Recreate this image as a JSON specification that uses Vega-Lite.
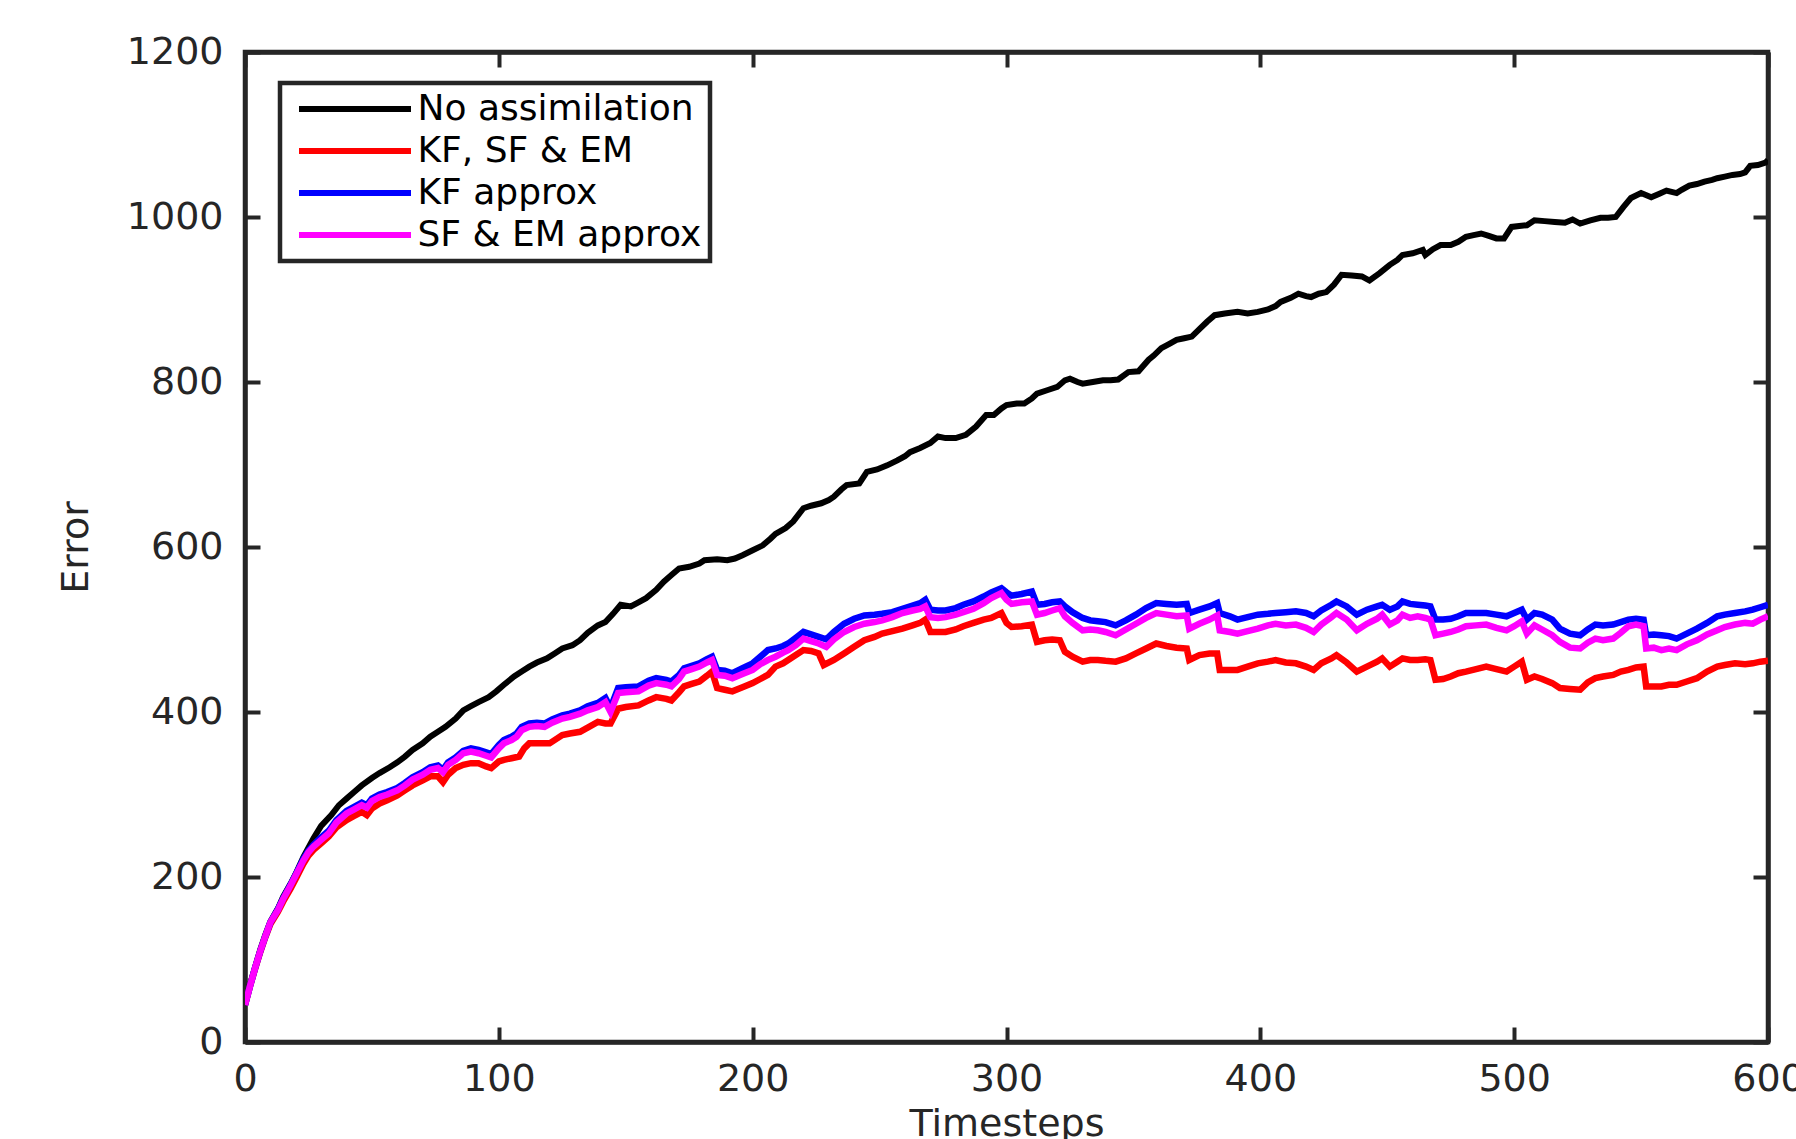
{
  "$schema": "https://vega.github.io/schema/vega-lite/v6.json",
  "width": 1523,
  "height": 990,
  "autosize": {"type": "none"},
  "padding": {"left": 245, "top": 52, "right": 28, "bottom": 97},
  "background": "white",
  "config": {
    "view": {"stroke": "#262626", "strokeWidth": 4.5},
    "axis": {
      "grid": false,
      "domainColor": "#262626",
      "domainWidth": 4.5,
      "tickColor": "#262626",
      "tickWidth": 4,
      "tickSize": -15,
      "labelFont": "DejaVu Sans",
      "labelFontSize": 38,
      "labelColor": "#262626",
      "titleFont": "DejaVu Sans",
      "titleFontSize": 38,
      "titleFontWeight": "normal",
      "titleColor": "#262626",
      "labelBound": false,
      "labelFlush": false,
      "labelOverlap": false
    }
  },
  "datasets": {
    "black": [
      {"t":0,"v":45},{"t":2,"v":70},{"t":4,"v":91},{"t":6,"v":112},{"t":8,"v":130},{"t":10,"v":146},{"t":13,"v":162},{"t":15,"v":176},{"t":18,"v":192},{"t":20,"v":204},{"t":23,"v":224},{"t":27,"v":247},{"t":30,"v":262},{"t":34,"v":275},{"t":37,"v":287},{"t":40,"v":295},{"t":43,"v":303},{"t":46,"v":311},{"t":50,"v":320},{"t":53,"v":326},{"t":57,"v":333},{"t":60,"v":339},{"t":63,"v":346},{"t":66,"v":354},{"t":70,"v":362},{"t":73,"v":370},{"t":76,"v":376},{"t":79,"v":382},{"t":83,"v":392},{"t":86,"v":402},{"t":89,"v":407},{"t":92,"v":412},{"t":96,"v":418},{"t":99,"v":425},{"t":102,"v":433},{"t":106,"v":443},{"t":109,"v":449},{"t":112,"v":455},{"t":115,"v":460},{"t":119,"v":465},{"t":122,"v":471},{"t":125,"v":477},{"t":129,"v":481},{"t":132,"v":487},{"t":135,"v":496},{"t":139,"v":505},{"t":142,"v":509},{"t":145,"v":519},{"t":148,"v":530},{"t":152,"v":528},{"t":155,"v":533},{"t":158,"v":538},{"t":162,"v":548},{"t":165,"v":558},{"t":168,"v":566},{"t":171,"v":574},{"t":175,"v":576},{"t":179,"v":580},{"t":181,"v":584},{"t":186,"v":585},{"t":190,"v":584},{"t":193,"v":586},{"t":196,"v":590},{"t":200,"v":596},{"t":204,"v":602},{"t":207,"v":610},{"t":209,"v":616},{"t":213,"v":623},{"t":216,"v":631},{"t":220,"v":647},{"t":223,"v":650},{"t":227,"v":653},{"t":230,"v":657},{"t":232,"v":661},{"t":235,"v":670},{"t":237,"v":675},{"t":242,"v":677},{"t":245,"v":691},{"t":249,"v":694},{"t":253,"v":699},{"t":257,"v":705},{"t":260,"v":710},{"t":262,"v":715},{"t":266,"v":720},{"t":270,"v":726},{"t":273,"v":734},{"t":276,"v":732},{"t":280,"v":732},{"t":284,"v":736},{"t":288,"v":746},{"t":292,"v":760},{"t":295,"v":760},{"t":298,"v":768},{"t":300,"v":772},{"t":304,"v":774},{"t":307,"v":774},{"t":310,"v":780},{"t":312,"v":786},{"t":316,"v":790},{"t":320,"v":794},{"t":323,"v":802},{"t":325,"v":804},{"t":328,"v":800},{"t":330,"v":798},{"t":334,"v":800},{"t":338,"v":802},{"t":341,"v":802},{"t":344,"v":803},{"t":348,"v":812},{"t":352,"v":813},{"t":354,"v":820},{"t":356,"v":827},{"t":358,"v":832},{"t":361,"v":841},{"t":364,"v":846},{"t":367,"v":851},{"t":370,"v":853},{"t":373,"v":855},{"t":376,"v":864},{"t":379,"v":873},{"t":382,"v":881},{"t":386,"v":883},{"t":391,"v":885},{"t":395,"v":883},{"t":399,"v":885},{"t":403,"v":888},{"t":406,"v":892},{"t":408,"v":897},{"t":412,"v":902},{"t":415,"v":907},{"t":418,"v":904},{"t":420,"v":903},{"t":423,"v":907},{"t":426,"v":909},{"t":429,"v":918},{"t":432,"v":930},{"t":436,"v":929},{"t":440,"v":928},{"t":443,"v":923},{"t":447,"v":932},{"t":451,"v":942},{"t":454,"v":948},{"t":456,"v":954},{"t":460,"v":956},{"t":464,"v":960},{"t":465,"v":954},{"t":468,"v":961},{"t":471,"v":966},{"t":475,"v":966},{"t":478,"v":970},{"t":481,"v":976},{"t":484,"v":978},{"t":487,"v":980},{"t":490,"v":977},{"t":493,"v":974},{"t":496,"v":974},{"t":499,"v":988},{"t":502,"v":989},{"t":505,"v":990},{"t":508,"v":996},{"t":512,"v":995},{"t":516,"v":994},{"t":520,"v":993},{"t":523,"v":997},{"t":526,"v":992},{"t":530,"v":996},{"t":534,"v":999},{"t":537,"v":999},{"t":540,"v":1000},{"t":543,"v":1012},{"t":546,"v":1023},{"t":550,"v":1029},{"t":554,"v":1024},{"t":557,"v":1028},{"t":560,"v":1032},{"t":564,"v":1029},{"t":566,"v":1033},{"t":569,"v":1038},{"t":572,"v":1040},{"t":575,"v":1043},{"t":578,"v":1045},{"t":580,"v":1047},{"t":583,"v":1049},{"t":586,"v":1051},{"t":589,"v":1052},{"t":591,"v":1054},{"t":593,"v":1062},{"t":596,"v":1063},{"t":599,"v":1066},{"t":600,"v":1069}
    ],
    "red": [
      {"t":0,"v":45},{"t":2,"v":68},{"t":4,"v":89},{"t":6,"v":109},{"t":8,"v":127},{"t":10,"v":143},{"t":13,"v":158},{"t":15,"v":170},{"t":18,"v":186},{"t":20,"v":198},{"t":23,"v":216},{"t":25,"v":226},{"t":27,"v":233},{"t":30,"v":241},{"t":33,"v":249},{"t":36,"v":260},{"t":40,"v":269},{"t":43,"v":274},{"t":46,"v":279},{"t":48,"v":275},{"t":50,"v":283},{"t":53,"v":289},{"t":56,"v":293},{"t":60,"v":299},{"t":63,"v":305},{"t":66,"v":311},{"t":70,"v":317},{"t":73,"v":322},{"t":76,"v":322},{"t":78,"v":315},{"t":80,"v":324},{"t":83,"v":332},{"t":86,"v":336},{"t":89,"v":338},{"t":92,"v":338},{"t":95,"v":334},{"t":97,"v":332},{"t":100,"v":340},{"t":102,"v":342},{"t":105,"v":344},{"t":108,"v":346},{"t":110,"v":356},{"t":112,"v":362},{"t":116,"v":362},{"t":120,"v":362},{"t":123,"v":368},{"t":125,"v":372},{"t":128,"v":374},{"t":132,"v":376},{"t":135,"v":381},{"t":139,"v":388},{"t":142,"v":386},{"t":144,"v":386},{"t":147,"v":404},{"t":150,"v":406},{"t":155,"v":408},{"t":159,"v":414},{"t":162,"v":418},{"t":166,"v":416},{"t":168,"v":414},{"t":171,"v":424},{"t":173,"v":431},{"t":176,"v":434},{"t":179,"v":437},{"t":182,"v":444},{"t":184,"v":449},{"t":186,"v":429},{"t":189,"v":427},{"t":192,"v":425},{"t":196,"v":430},{"t":200,"v":435},{"t":203,"v":440},{"t":206,"v":445},{"t":209,"v":455},{"t":212,"v":459},{"t":214,"v":463},{"t":217,"v":469},{"t":220,"v":475},{"t":223,"v":474},{"t":226,"v":471},{"t":228,"v":457},{"t":232,"v":463},{"t":236,"v":471},{"t":240,"v":479},{"t":244,"v":487},{"t":248,"v":491},{"t":251,"v":495},{"t":255,"v":498},{"t":259,"v":501},{"t":263,"v":505},{"t":266,"v":508},{"t":268,"v":512},{"t":270,"v":497},{"t":273,"v":497},{"t":276,"v":497},{"t":280,"v":500},{"t":283,"v":504},{"t":287,"v":508},{"t":291,"v":512},{"t":294,"v":514},{"t":298,"v":520},{"t":300,"v":508},{"t":302,"v":503},{"t":306,"v":504},{"t":310,"v":506},{"t":312,"v":485},{"t":315,"v":487},{"t":318,"v":488},{"t":321,"v":487},{"t":323,"v":473},{"t":326,"v":467},{"t":330,"v":461},{"t":333,"v":463},{"t":336,"v":463},{"t":339,"v":462},{"t":343,"v":461},{"t":347,"v":465},{"t":351,"v":471},{"t":355,"v":477},{"t":359,"v":483},{"t":363,"v":480},{"t":367,"v":478},{"t":371,"v":477},{"t":372,"v":463},{"t":376,"v":469},{"t":380,"v":471},{"t":383,"v":471},{"t":384,"v":451},{"t":388,"v":451},{"t":391,"v":451},{"t":395,"v":455},{"t":399,"v":459},{"t":403,"v":461},{"t":406,"v":463},{"t":410,"v":460},{"t":414,"v":459},{"t":418,"v":455},{"t":421,"v":451},{"t":424,"v":459},{"t":428,"v":465},{"t":430,"v":469},{"t":434,"v":460},{"t":438,"v":449},{"t":442,"v":455},{"t":446,"v":461},{"t":448,"v":465},{"t":451,"v":455},{"t":454,"v":461},{"t":456,"v":465},{"t":459,"v":463},{"t":462,"v":463},{"t":465,"v":464},{"t":467,"v":463},{"t":469,"v":439},{"t":472,"v":440},{"t":475,"v":443},{"t":478,"v":447},{"t":481,"v":449},{"t":485,"v":452},{"t":489,"v":455},{"t":493,"v":452},{"t":497,"v":449},{"t":500,"v":455},{"t":503,"v":461},{"t":505,"v":439},{"t":508,"v":443},{"t":511,"v":440},{"t":515,"v":435},{"t":518,"v":429},{"t":522,"v":428},{"t":526,"v":427},{"t":529,"v":436},{"t":532,"v":441},{"t":535,"v":443},{"t":539,"v":445},{"t":542,"v":449},{"t":545,"v":451},{"t":548,"v":454},{"t":551,"v":455},{"t":552,"v":431},{"t":555,"v":431},{"t":558,"v":431},{"t":561,"v":433},{"t":564,"v":433},{"t":568,"v":437},{"t":572,"v":441},{"t":576,"v":449},{"t":580,"v":455},{"t":583,"v":457},{"t":587,"v":459},{"t":591,"v":458},{"t":594,"v":459},{"t":597,"v":461},{"t":600,"v":462}
    ],
    "blue": [
      {"t":0,"v":45},{"t":2,"v":68},{"t":4,"v":90},{"t":6,"v":110},{"t":8,"v":128},{"t":10,"v":145},{"t":13,"v":161},{"t":15,"v":174},{"t":18,"v":191},{"t":20,"v":203},{"t":23,"v":222},{"t":25,"v":232},{"t":27,"v":239},{"t":30,"v":248},{"t":33,"v":256},{"t":36,"v":269},{"t":40,"v":280},{"t":43,"v":285},{"t":46,"v":290},{"t":48,"v":287},{"t":50,"v":295},{"t":53,"v":300},{"t":56,"v":303},{"t":60,"v":308},{"t":63,"v":314},{"t":66,"v":321},{"t":70,"v":327},{"t":73,"v":333},{"t":76,"v":335},{"t":78,"v":330},{"t":80,"v":339},{"t":83,"v":345},{"t":86,"v":353},{"t":89,"v":356},{"t":92,"v":354},{"t":95,"v":351},{"t":97,"v":349},{"t":100,"v":360},{"t":102,"v":366},{"t":105,"v":370},{"t":107,"v":374},{"t":109,"v":382},{"t":112,"v":386},{"t":115,"v":387},{"t":118,"v":386},{"t":121,"v":391},{"t":125,"v":396},{"t":128,"v":398},{"t":132,"v":402},{"t":135,"v":407},{"t":139,"v":411},{"t":142,"v":417},{"t":144,"v":405},{"t":147,"v":429},{"t":150,"v":430},{"t":155,"v":431},{"t":159,"v":438},{"t":162,"v":441},{"t":166,"v":439},{"t":168,"v":437},{"t":171,"v":445},{"t":173,"v":453},{"t":176,"v":456},{"t":179,"v":459},{"t":182,"v":464},{"t":184,"v":467},{"t":186,"v":451},{"t":189,"v":450},{"t":192,"v":447},{"t":196,"v":453},{"t":200,"v":459},{"t":203,"v":467},{"t":206,"v":475},{"t":209,"v":477},{"t":212,"v":480},{"t":214,"v":483},{"t":217,"v":490},{"t":220,"v":497},{"t":223,"v":494},{"t":226,"v":491},{"t":229,"v":488},{"t":232,"v":497},{"t":236,"v":507},{"t":240,"v":513},{"t":244,"v":517},{"t":248,"v":518},{"t":251,"v":519},{"t":255,"v":521},{"t":259,"v":525},{"t":263,"v":529},{"t":266,"v":532},{"t":268,"v":536},{"t":270,"v":524},{"t":273,"v":523},{"t":276,"v":523},{"t":280,"v":526},{"t":283,"v":530},{"t":287,"v":534},{"t":291,"v":540},{"t":294,"v":545},{"t":298,"v":550},{"t":300,"v":545},{"t":302,"v":541},{"t":306,"v":543},{"t":310,"v":546},{"t":312,"v":530},{"t":315,"v":531},{"t":318,"v":533},{"t":321,"v":534},{"t":323,"v":528},{"t":326,"v":521},{"t":330,"v":514},{"t":333,"v":511},{"t":336,"v":510},{"t":339,"v":509},{"t":343,"v":505},{"t":347,"v":511},{"t":351,"v":518},{"t":355,"v":526},{"t":359,"v":532},{"t":363,"v":531},{"t":367,"v":530},{"t":371,"v":531},{"t":372,"v":520},{"t":376,"v":524},{"t":380,"v":528},{"t":383,"v":532},{"t":384,"v":520},{"t":388,"v":516},{"t":391,"v":512},{"t":395,"v":515},{"t":399,"v":518},{"t":403,"v":519},{"t":406,"v":520},{"t":410,"v":521},{"t":414,"v":522},{"t":418,"v":520},{"t":421,"v":516},{"t":424,"v":523},{"t":428,"v":530},{"t":430,"v":534},{"t":434,"v":528},{"t":438,"v":518},{"t":442,"v":524},{"t":446,"v":528},{"t":448,"v":530},{"t":451,"v":524},{"t":454,"v":528},{"t":456,"v":534},{"t":459,"v":531},{"t":462,"v":530},{"t":465,"v":529},{"t":467,"v":528},{"t":469,"v":512},{"t":472,"v":512},{"t":475,"v":513},{"t":478,"v":516},{"t":481,"v":520},{"t":485,"v":520},{"t":489,"v":520},{"t":493,"v":518},{"t":497,"v":516},{"t":500,"v":520},{"t":503,"v":524},{"t":505,"v":512},{"t":508,"v":520},{"t":511,"v":518},{"t":515,"v":512},{"t":518,"v":501},{"t":522,"v":495},{"t":526,"v":493},{"t":529,"v":500},{"t":532,"v":506},{"t":535,"v":505},{"t":539,"v":506},{"t":542,"v":509},{"t":545,"v":512},{"t":548,"v":513},{"t":551,"v":512},{"t":552,"v":493},{"t":555,"v":494},{"t":558,"v":493},{"t":561,"v":492},{"t":564,"v":489},{"t":568,"v":495},{"t":572,"v":501},{"t":576,"v":508},{"t":580,"v":516},{"t":583,"v":518},{"t":587,"v":520},{"t":591,"v":522},{"t":594,"v":524},{"t":597,"v":527},{"t":600,"v":530}
    ],
    "magenta": [
      {"t":0,"v":45},{"t":2,"v":68},{"t":4,"v":90},{"t":6,"v":110},{"t":8,"v":128},{"t":10,"v":145},{"t":13,"v":160},{"t":15,"v":173},{"t":18,"v":190},{"t":20,"v":202},{"t":23,"v":220},{"t":25,"v":230},{"t":27,"v":237},{"t":30,"v":245},{"t":33,"v":253},{"t":36,"v":266},{"t":40,"v":277},{"t":43,"v":282},{"t":46,"v":287},{"t":48,"v":284},{"t":50,"v":292},{"t":53,"v":297},{"t":56,"v":300},{"t":60,"v":305},{"t":63,"v":311},{"t":66,"v":318},{"t":70,"v":324},{"t":73,"v":330},{"t":76,"v":332},{"t":78,"v":327},{"t":80,"v":336},{"t":83,"v":342},{"t":86,"v":350},{"t":89,"v":352},{"t":92,"v":350},{"t":95,"v":347},{"t":97,"v":345},{"t":100,"v":356},{"t":102,"v":362},{"t":105,"v":366},{"t":107,"v":370},{"t":109,"v":378},{"t":112,"v":382},{"t":115,"v":383},{"t":118,"v":382},{"t":121,"v":387},{"t":125,"v":392},{"t":128,"v":394},{"t":132,"v":398},{"t":135,"v":402},{"t":139,"v":406},{"t":142,"v":412},{"t":144,"v":400},{"t":147,"v":423},{"t":150,"v":424},{"t":155,"v":425},{"t":159,"v":432},{"t":162,"v":435},{"t":166,"v":433},{"t":168,"v":431},{"t":171,"v":440},{"t":173,"v":449},{"t":176,"v":452},{"t":179,"v":455},{"t":182,"v":460},{"t":184,"v":463},{"t":186,"v":445},{"t":189,"v":444},{"t":192,"v":441},{"t":196,"v":446},{"t":200,"v":451},{"t":203,"v":458},{"t":206,"v":463},{"t":209,"v":467},{"t":212,"v":472},{"t":214,"v":475},{"t":217,"v":481},{"t":220,"v":489},{"t":223,"v":486},{"t":226,"v":483},{"t":229,"v":479},{"t":232,"v":488},{"t":236,"v":497},{"t":240,"v":503},{"t":244,"v":507},{"t":248,"v":509},{"t":251,"v":511},{"t":255,"v":515},{"t":259,"v":520},{"t":263,"v":523},{"t":266,"v":525},{"t":268,"v":528},{"t":270,"v":515},{"t":273,"v":514},{"t":276,"v":515},{"t":280,"v":518},{"t":283,"v":521},{"t":287,"v":525},{"t":291,"v":532},{"t":294,"v":538},{"t":298,"v":544},{"t":300,"v":536},{"t":302,"v":531},{"t":306,"v":533},{"t":310,"v":534},{"t":312,"v":518},{"t":315,"v":520},{"t":318,"v":523},{"t":321,"v":526},{"t":323,"v":516},{"t":326,"v":508},{"t":330,"v":499},{"t":333,"v":500},{"t":336,"v":499},{"t":339,"v":497},{"t":343,"v":493},{"t":347,"v":500},{"t":351,"v":507},{"t":355,"v":514},{"t":359,"v":520},{"t":363,"v":518},{"t":367,"v":516},{"t":371,"v":517},{"t":372,"v":501},{"t":376,"v":507},{"t":380,"v":512},{"t":383,"v":517},{"t":384,"v":499},{"t":388,"v":497},{"t":391,"v":495},{"t":395,"v":498},{"t":399,"v":501},{"t":403,"v":505},{"t":406,"v":507},{"t":410,"v":505},{"t":414,"v":506},{"t":418,"v":502},{"t":421,"v":497},{"t":424,"v":506},{"t":428,"v":515},{"t":430,"v":520},{"t":434,"v":512},{"t":438,"v":499},{"t":442,"v":507},{"t":446,"v":513},{"t":448,"v":518},{"t":451,"v":506},{"t":454,"v":511},{"t":456,"v":518},{"t":459,"v":514},{"t":462,"v":516},{"t":465,"v":514},{"t":467,"v":512},{"t":469,"v":493},{"t":472,"v":495},{"t":475,"v":497},{"t":478,"v":500},{"t":481,"v":504},{"t":485,"v":505},{"t":489,"v":506},{"t":493,"v":502},{"t":497,"v":499},{"t":500,"v":504},{"t":503,"v":510},{"t":505,"v":495},{"t":508,"v":505},{"t":511,"v":500},{"t":515,"v":493},{"t":518,"v":485},{"t":522,"v":478},{"t":526,"v":477},{"t":529,"v":484},{"t":532,"v":489},{"t":535,"v":487},{"t":539,"v":489},{"t":542,"v":496},{"t":545,"v":504},{"t":548,"v":506},{"t":551,"v":504},{"t":552,"v":477},{"t":555,"v":478},{"t":558,"v":475},{"t":561,"v":477},{"t":564,"v":475},{"t":568,"v":482},{"t":572,"v":487},{"t":576,"v":494},{"t":580,"v":499},{"t":583,"v":503},{"t":587,"v":506},{"t":591,"v":508},{"t":594,"v":507},{"t":597,"v":512},{"t":600,"v":516}
    ]
  },
  "layer": [
    {
      "data": {"name": "black"},
      "mark": {"type": "line", "strokeWidth": 6, "clip": true},
      "encoding": {
        "x": {"field": "t", "type": "quantitative",
              "scale": {"domain": [0, 600], "nice": false, "zero": false},
              "axis": {"orient": "bottom", "values": [0,100,200,300,400,500,600], "format": "d", "labelPadding": 33,
                       "title": "Timesteps", "titleX": 761.5, "titleY": 93, "titleAlign": "center", "titleBaseline": "alphabetic", "titleAngle": 0}},
        "y": {"field": "v", "type": "quantitative",
              "scale": {"domain": [0, 1200], "nice": false},
              "axis": {"orient": "left", "values": [0,200,400,600,800,1000,1200], "format": "d", "labelPadding": 37,
                       "title": "Error", "titleX": -169, "titleY": 495, "titleAlign": "center", "titleBaseline": "middle", "titleAngle": -90}},
        "color": {"datum": "No assimilation", "type": "nominal",
                  "scale": {"domain": ["No assimilation", "KF, SF & EM", "KF approx", "SF & EM approx"],
                            "range": ["#000000", "#ff0000", "#0000ff", "#ff00ff"]},
                  "legend": {
                    "orient": "none", "legendX": 35, "legendY": 31,
                    "title": null,
                    "symbolType": "M-4,0H4",
                    "symbolSize": 784,
                    "symbolStrokeWidth": 6,
                    "symbolOffset": 49,
                    "labelOffset": 44.5,
                    "labelFont": "DejaVu Sans",
                    "labelFontSize": 36,
                    "labelColor": "#000000",
                    "labelLimit": 0,
                    "padding": 8,
                    "rowPadding": 6,
                    "strokeColor": "#262626",
                    "fillColor": "#ffffff",
                    "encode": {"legend": {"update": {"strokeWidth": {"value": 4.5}}}}
                  }}
      }
    },
    {
      "data": {"name": "red"},
      "mark": {"type": "line", "strokeWidth": 6.5, "clip": true},
      "encoding": {
        "x": {"field": "t", "type": "quantitative",
              "axis": {"orient": "top", "values": [0,100,200,300,400,500,600], "labels": false, "title": null}},
        "y": {"field": "v", "type": "quantitative",
              "axis": {"orient": "right", "values": [0,200,400,600,800,1000,1200], "labels": false, "title": null}},
        "color": {"datum": "KF, SF & EM", "type": "nominal"}
      }
    },
    {
      "data": {"name": "blue"},
      "mark": {"type": "line", "strokeWidth": 6.5, "clip": true},
      "encoding": {
        "x": {"field": "t", "type": "quantitative", "axis": null},
        "y": {"field": "v", "type": "quantitative", "axis": null},
        "color": {"datum": "KF approx", "type": "nominal"}
      }
    },
    {
      "data": {"name": "magenta"},
      "mark": {"type": "line", "strokeWidth": 6.5, "clip": true},
      "encoding": {
        "x": {"field": "t", "type": "quantitative", "axis": null},
        "y": {"field": "v", "type": "quantitative", "axis": null},
        "color": {"datum": "SF & EM approx", "type": "nominal"}
      }
    }
  ],
  "resolve": {"axis": {"x": "independent", "y": "independent"}}
}
